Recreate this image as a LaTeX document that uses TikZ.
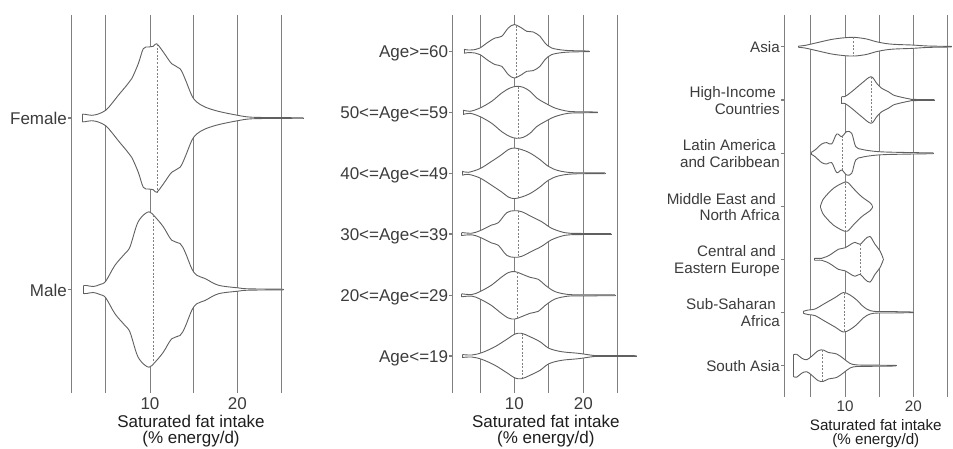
\documentclass[tikz,border=0pt]{standalone}
\usepackage{fontspec}
\setmainfont{Liberation Sans}
\definecolor{gridc}{HTML}{7F7F7F}
\definecolor{vioc}{HTML}{606060}
\definecolor{medc}{HTML}{808080}
\definecolor{txtc}{HTML}{3C3C3C}
\definecolor{ttlc}{HTML}{1E1E1E}
\newcommand{\pfontA}{\fontsize{17}{20}\selectfont}
\newcommand{\pfontB}{\fontsize{15.2}{18}\selectfont}
\tikzset{
  gridline/.style={draw=gridc, line width=1.05pt},
  tickline/.style={draw=gridc, line width=1.05pt},
  vioedge/.style={draw=vioc, line width=0.9pt, line join=round},
  medline/.style={draw=medc, line width=0.8pt, dash pattern=on 2pt off 1.6pt},
  ylab/.style={anchor=base east, inner sep=0pt, text=txtc},
  xlab/.style={anchor=base, inner sep=0pt, text=txtc},
  ttl/.style={anchor=base, inner sep=0pt, text=ttlc},
}
% #1 centre y, #2 x0, #3 h0, #4 x1, #5 h1, #6 median x, #7 median half height, #8 inner points
\newcommand{\violin}[8]{%
  \begin{scope}[shift={(0,#1)}]
    \foreach \s in {1,-1}{%
      \begin{scope}[yscale=\s]
        \fill[white] plot[smooth,tension=0.55] coordinates {(#2,#3) #8 (#4,#5)} -- (#4,-0.6) -- (#2,-0.6) -- cycle;
      \end{scope}}
    \foreach \s in {1,-1}{%
      \begin{scope}[yscale=\s]
        \draw[vioedge] plot[smooth,tension=0.55] coordinates {(#2,#3) #8 (#4,#5)};
      \end{scope}}
    \draw[vioedge] (#2,-#3) -- (#2,#3);
    \draw[vioedge] (#4,-#5) -- (#4,#5);
    \draw[medline] (#6,-#7) -- (#6,#7);
  \end{scope}}
\begin{document}
\begin{tikzpicture}[x=1pt,y=-1pt]
\useasboundingbox (0,0) rectangle (953,448);
\fill[white] (0,0) rectangle (953,448);

% ---------------- grid lines ----------------
\foreach \gx in {71.7,105.7,150.2,193.3,237.3,281.7}{\draw[gridline] (\gx,15) -- (\gx,392.7);}
\foreach \gx in {452.7,480.2,514.3,548.7,583.3,617.7}{\draw[gridline] (\gx,15) -- (\gx,392.7);}
\foreach \gx in {784.3,810.7,845.2,879.3,913.3,947.3}{\draw[gridline] (\gx,15) -- (\gx,397);}

% ---------------- y ticks ----------------
\foreach \ty in {118,289.5}{\draw[tickline] (68.2,\ty) -- (71.7,\ty);}
\foreach \ty in {51.3,112.3,173.3,234,295.3,356}{\draw[tickline] (449.2,\ty) -- (452.7,\ty);}
\foreach \ty in {46.7,100,153.3,206.7,259.3,312.3,365.7}{\draw[tickline] (780.8,\ty) -- (784.3,\ty);}

% ---------------- panel 1 violins ----------------
\violin{118}{82.3}{3.8}{303.3}{0.2}{157.3}{74}{(85,3.7) (91.7,2.7) (98.3,4) (105.7,7.7) (111.7,14.3) (118.3,22.7) (126.7,32.7) (131.7,39.3) (138.3,54.3) (143.3,69.3) (148.3,71) (153.3,71.7) (156.7,74.3) (163.3,66) (171.7,54.3) (180,49.3) (185,39.3) (191.7,22.7) (196.7,16) (205,11) (218.3,6.7) (237.7,2.7) (251.7,0.8) (281.7,0.4)}
\violin{289.5}{83.3}{4}{283.3}{0.3}{153.3}{74.5}{(86.7,4) (93.3,3) (100,5) (105.7,8.3) (115,24.3) (125,36) (130,42.7) (136.7,64.3) (141.7,72.7) (149,77.7) (155,72.7) (163.3,62.7) (171.7,49.3) (180,46) (185,37.7) (191.7,21) (196.7,14.3) (205,11) (218.3,4.3) (237.7,1.7) (248.3,0.7)}

% ---------------- panel 2 violins ----------------
\violin{51.3}{464}{2}{589}{0.3}{516.7}{25.6}{(468.3,1.3) (475,1.7) (480,3.3) (488.3,9.3) (495,13.3) (501.7,15) (508.3,23.3) (514.3,26.7) (521.7,23.3) (526.7,20) (533.3,19.3) (540,15) (545,8.3) (551.7,3.3) (565,1) (583.3,0.4)}
\violin{112.3}{463.3}{2.2}{597.7}{0.3}{518.3}{25.8}{(470,1) (480,4.3) (491.7,11) (501.7,19.3) (510,24.3) (516.7,26) (523.3,25) (530,21) (536.7,14.3) (545,9.3) (555,4.3) (568.3,1) (583.3,0.5)}
\violin{173.3}{462.3}{2}{605}{0.4}{518.3}{24.4}{(468.3,1) (480,4.7) (491.7,12) (501.7,18.7) (508.3,23.7) (514.3,25.3) (521.7,23.7) (530,20.3) (540,13.7) (548.3,7) (558.3,2.7) (573.3,0.6)}
\violin{234}{461.7}{1.5}{611}{0.4}{518.3}{22.8}{(471.7,0.8) (480,3.3) (491.7,9) (498.3,11.3) (506.7,21.3) (514.3,23.3) (521.7,22.3) (531.7,17.3) (541.7,12.3) (551.7,5.7) (565,1.3) (578.3,0.6)}
\violin{295.3}{461.7}{1.5}{615}{0.4}{517}{23}{(471.7,0.8) (480,3.7) (491.7,10.3) (500,17) (508.3,22.7) (515,23.7) (521.7,21.3) (530,18) (538.3,16) (545,10.3) (555,3.7) (568.3,0.8) (580,0.6)}
\violin{356}{462.3}{1.5}{636.7}{0.3}{522.7}{22.3}{(471.7,1) (481.7,3.3) (495,9.3) (508.3,17.7) (515,22) (521.7,22.7) (530,19.3) (540,14.3) (549,7.7) (561.7,4.3) (578.3,2.7) (591.7,0.8) (598.3,0.5)}

% ---------------- panel 3 violins ----------------
\violin{46.7}{798.3}{0.6}{951.7}{0.3}{853.3}{9.3}{(805,1.3) (818.3,4.3) (831.7,7.3) (845,9) (855,9.3) (866.7,7.7) (875,5.3) (885,3.3) (895,2.3) (911.7,1.7) (928.3,0.7)}
\violin{100}{841.7}{3.5}{934.3}{0.4}{871.7}{23}{(845,3.5) (851.7,8.3) (861.7,16.7) (871,23.3) (876.7,16.7) (881.7,11.7) (888.3,8.3) (893.3,5) (901.7,2.7) (910,1) (913.3,0.6)}
\violin{153.3}{811}{0.8}{933.3}{0.4}{842.3}{17.5}{(815,3.3) (821.7,9.3) (826.7,10.7) (831.7,9.3) (836.7,19.3) (841.7,16.7) (846.7,21.7) (851.7,20) (855.7,6.7) (861.7,4) (871.7,2.3) (885,1.3) (913.3,0.7)}
\violin{206.7}{820.8}{1.5}{872.3}{1}{845}{24}{(822.7,6.7) (826.7,11.7) (833.3,18.3) (841.7,23.3) (847.3,24.5) (853.3,18.3) (861.7,10) (870,4)}
\violin{259.3}{814.3}{1}{883.3}{0.5}{860}{15}{(821.7,1) (826.7,2.7) (831.7,5.5) (838.3,10) (845,11.5) (850,14.5) (855,17) (860,15) (865,20) (870,22.8) (875,15) (880,8.3)}
\violin{312.3}{803.3}{1}{913.3}{0.3}{844.3}{19.5}{(808.3,2.3) (815,3.3) (825,9) (835,14.7) (843.3,19.7) (850,17.3) (856.7,12.3) (863.3,5.7) (870,1.7) (878.3,0.7) (891.7,0.7)}
\violin{365.7}{793.3}{10.8}{896}{0.3}{822.3}{15.5}{(796.7,11.5) (801.7,7.5) (806.7,6) (811.7,9.5) (818.3,15) (823.3,15.7) (828.3,13.3) (836.7,11.7) (843.3,7.3) (850,2.3) (856.7,0.8) (871.7,0.6)}

% ---------------- panel 1 texts ----------------
\node[ylab,font=\pfontA] (lfem) at (67,124.5) {Female};
\node[ylab,font=\pfontA] (lmal) at (67,296) {Male};
\node[xlab,font=\pfontA] (t1a) at (150,409.3) {10};
\node[xlab,font=\pfontA] (t1b) at (237.3,409.3) {20};
\node[ttl,font=\pfontA] (ti1a) at (191,427.7) {Saturated fat intake};
\node[ttl,font=\pfontA] (ti1b) at (191,443.8) {(\% energy/d)};

% ---------------- panel 2 texts ----------------
\node[ylab,font=\pfontA] (la1) at (448.3,57.6) {Age>=60};
\node[ylab,font=\pfontA] (la2) at (448.3,118.6) {50<=Age<=59};
\node[ylab,font=\pfontA] (la3) at (448.3,179.6) {40<=Age<=49};
\node[ylab,font=\pfontA] (la4) at (448.3,240.3) {30<=Age<=39};
\node[ylab,font=\pfontA] (la5) at (448.3,301.6) {20<=Age<=29};
\node[ylab,font=\pfontA] (la6) at (448.3,362.3) {Age<=19};
\node[xlab,font=\pfontA] (t2a) at (514.3,409.3) {10};
\node[xlab,font=\pfontA] (t2b) at (583.3,409.3) {20};
\node[ttl,font=\pfontA] (ti2a) at (545.8,427.7) {Saturated fat intake};
\node[ttl,font=\pfontA] (ti2b) at (545.8,443.8) {(\% energy/d)};

% ---------------- panel 3 texts ----------------
\node[ylab,font=\pfontB] (lr1) at (780,52.2) {Asia};
\node[ylab,font=\pfontB] (lr2a) at (776,97.5) {High-Income};
\node[ylab,font=\pfontB] (lr2b) at (780,114.2) {Countries};
\node[ylab,font=\pfontB] (lr3a) at (776,150.8) {Latin America};
\node[ylab,font=\pfontB] (lr3b) at (780,167.5) {and Caribbean};
\node[ylab,font=\pfontB] (lr4a) at (776,204.2) {Middle East and};
\node[ylab,font=\pfontB] (lr4b) at (780,220.9) {North Africa};
\node[ylab,font=\pfontB] (lr5a) at (776,256.8) {Central and};
\node[ylab,font=\pfontB] (lr5b) at (780,273.5) {Eastern Europe};
\node[ylab,font=\pfontB] (lr6a) at (776,309.8) {Sub-Saharan};
\node[ylab,font=\pfontB] (lr6b) at (780,326.5) {Africa};
\node[ylab,font=\pfontB] (lr7) at (780,371.2) {South Asia};
\node[xlab,font=\pfontB] (t3a) at (845,411.7) {10};
\node[xlab,font=\pfontB] (t3b) at (913.3,411.7) {20};
\node[ttl,font=\pfontB] (ti3a) at (875.8,430.5) {Saturated fat intake};
\node[ttl,font=\pfontB] (ti3b) at (875.8,444.6) {(\% energy/d)};
\end{tikzpicture}
\end{document}
